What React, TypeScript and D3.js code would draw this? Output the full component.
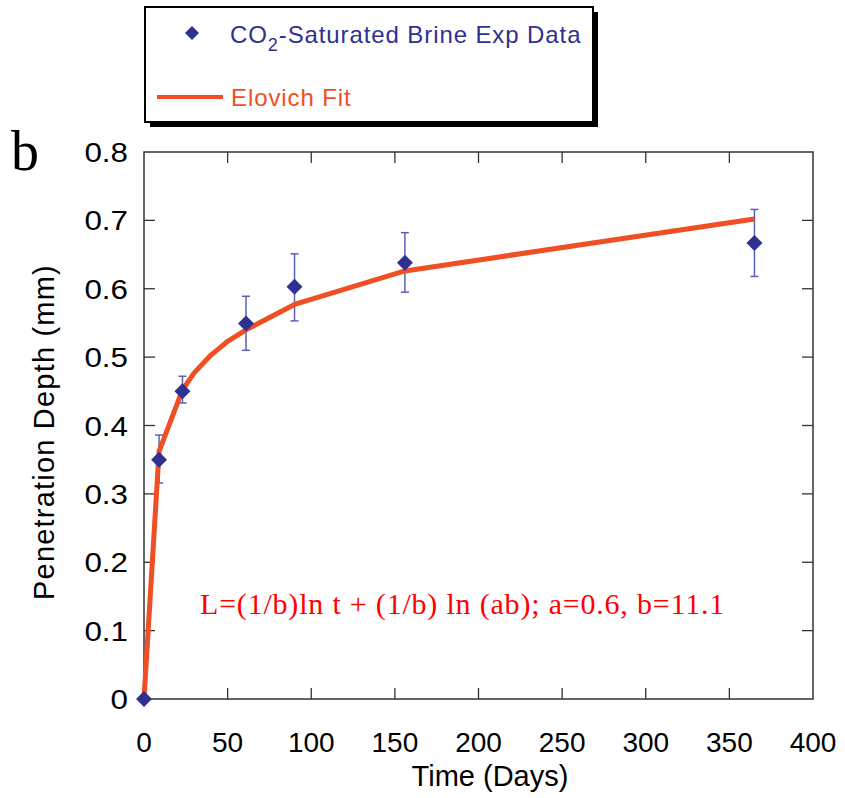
import React from "react";
import * as d3 from "d3";

const days = [0, 9, 23, 61, 90, 156, 365];
const depth = [0, 0.35, 0.45, 0.549, 0.603, 0.638, 0.667];
const errHigh = [0, 0.386, 0.472, 0.589, 0.651, 0.682, 0.716];
const errLow = [0, 0.316, 0.433, 0.51, 0.553, 0.595, 0.618];

const fitDays = [0, 9, 23, 30, 40, 50, 61, 90, 156, 365];
const fitDepth = [0, 0.362, 0.452, 0.477, 0.503, 0.523, 0.54, 0.577, 0.626, 0.702];

const xTicks = [0, 50, 100, 150, 200, 250, 300, 350, 400];
const yTicks = [0, 0.1, 0.2, 0.3, 0.4, 0.5, 0.6, 0.7, 0.8];

const NAVY = "#2e3192";
const ERR = "#5b60b5";
const ORANGE = "#f04e23";
const AXIS = "#333";
const SANS = "'Liberation Sans', Arial, sans-serif";
const SERIF = "'Liberation Serif', 'Times New Roman', serif";

export default function App() {
  const W = 845, H = 798;
  const x = d3.scaleLinear().domain([0, 400]).range([144, 813]);
  const y = d3.scaleLinear().domain([0, 0.8]).range([699, 152]);
  const line = d3.line<number>().x((d, i) => x(fitDays[i])).y((d) => y(d)).curve(d3.curveLinear);
  const diamond = (cx: number, cy: number, r: number) =>
    `M${cx},${cy - r}L${cx + r},${cy}L${cx},${cy + r}L${cx - r},${cy}Z`;
  const tickLen = 11;

  return (
    <svg width={W} height={H} style={{ position: "absolute", left: 0, top: 0, background: "#fff" }}>
      <rect x={0} y={0} width={W} height={H} fill="#fff" />
      {/* Legend */}
      <rect x={150} y={12} width={448} height={115} fill="#000" />
      <rect x={145} y={7} width={448} height={115} fill="#fff" stroke="#000" strokeWidth={2} />
      <path d={diamond(192, 33, 7)} fill={NAVY} />
      <text x={230} y={43} fontFamily={SANS} fontSize={24} letterSpacing={0.9} fill={NAVY}>
        CO<tspan dy={8} fontSize={18}>2</tspan><tspan dy={-8}>-Saturated Brine Exp Data</tspan>
      </text>
      <line x1={157} x2={223} y1={97} y2={97} stroke={ORANGE} strokeWidth={4} />
      <text x={231} y={106} fontFamily={SANS} fontSize={24} letterSpacing={0.9} fill={ORANGE}>Elovich Fit</text>

      {/* panel label */}
      <text x={11} y={170} fontFamily={SERIF} fontSize={56} fill="#000">b</text>

      {/* plot frame */}
      <rect x={x(0)} y={y(0.8)} width={x(400) - x(0)} height={y(0) - y(0.8)} fill="none" stroke={AXIS} strokeWidth={1.5} />
      {xTicks.slice(1, -1).map((t) => (
        <g key={"xt" + t}>
          <line x1={x(t)} x2={x(t)} y1={y(0)} y2={y(0) - tickLen} stroke={AXIS} strokeWidth={1.3} />
          <line x1={x(t)} x2={x(t)} y1={y(0.8)} y2={y(0.8) + tickLen} stroke={AXIS} strokeWidth={1.3} />
        </g>
      ))}
      {yTicks.slice(1, -1).map((t) => (
        <g key={"yt" + t}>
          <line x1={x(0)} x2={x(0) + tickLen} y1={y(t)} y2={y(t)} stroke={AXIS} strokeWidth={1.3} />
          <line x1={x(400)} x2={x(400) - tickLen} y1={y(t)} y2={y(t)} stroke={AXIS} strokeWidth={1.3} />
        </g>
      ))}
      {xTicks.map((t) => (
        <text key={"xl" + t} x={x(t)} y={752} textAnchor="middle" fontFamily={SANS} fontSize={28} fill="#000">
          {t}
        </text>
      ))}
      {yTicks.map((t) => (
        <g key={"yl" + t} transform={`translate(128,${y(t) + 10}) scale(1.12,1)`}>
          <text x={0} y={0} textAnchor="end" fontFamily={SANS} fontSize={28} fill="#000">
            {t === 0 ? "0" : d3.format(".1f")(t)}
          </text>
        </g>
      ))}
      <text x={490} y={786} textAnchor="middle" fontFamily={SANS} fontSize={29} fill="#000">Time (Days)</text>
      <text transform={`translate(54,${432}) rotate(-90)`} textAnchor="middle" fontFamily={SANS} fontSize={29} letterSpacing={1.2} fill="#000">
        Penetration Depth (mm)
      </text>

      {/* error bars */}
      {days.map((t, i) =>
        i === 0 ? null : (
          <g key={"e" + i} stroke={ERR} strokeWidth={1.5}>
            <line x1={x(t)} x2={x(t)} y1={y(errHigh[i])} y2={y(errLow[i])} />
            <line x1={x(t) - 4} x2={x(t) + 4} y1={y(errHigh[i])} y2={y(errHigh[i])} />
            <line x1={x(t) - 4} x2={x(t) + 4} y1={y(errLow[i])} y2={y(errLow[i])} />
          </g>
        )
      )}

      {/* fit line */}
      <path d={line(fitDepth) || ""} fill="none" stroke={ORANGE} strokeWidth={5} strokeLinejoin="round" />

      {/* data */}
      {days.map((t, i) => (
        <path key={"d" + i} d={diamond(x(t), y(depth[i]), 8)} fill={NAVY} />
      ))}

      <text x={200} y={614} fontFamily={SERIF} fontSize={30} letterSpacing={0.8} fill="#ff0000">
        L=(1/b)ln t + (1/b) ln (ab); a=0.6, b=11.1
      </text>
    </svg>
  );
}
